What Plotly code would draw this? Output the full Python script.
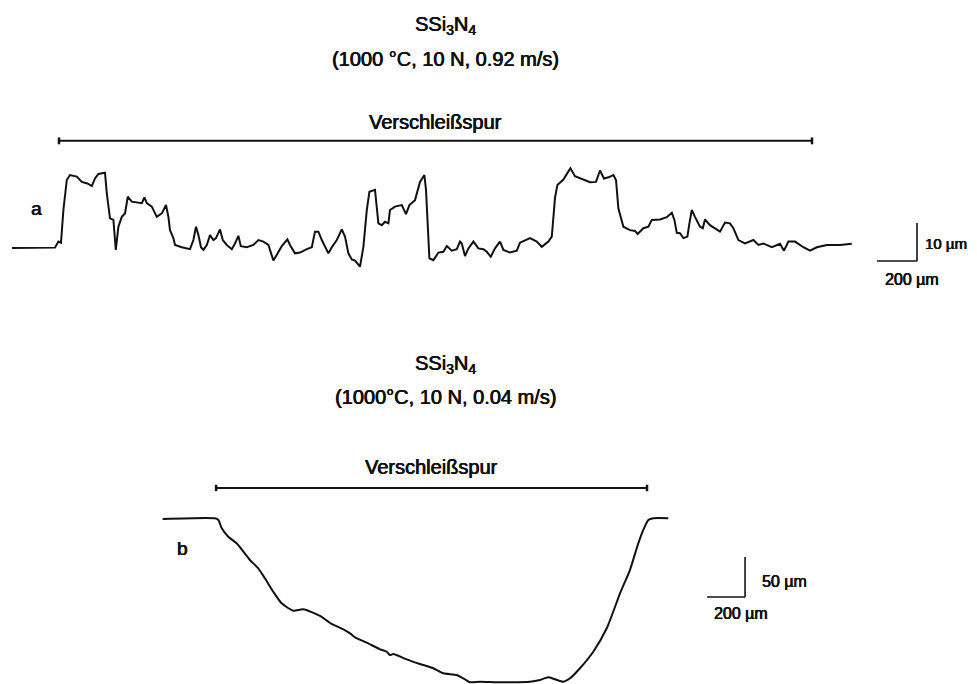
import plotly.graph_objects as go

# ---------------- Data: profile a (1000 °C, 10 N, 0.92 m/s) ----------------
# position along scan (µm), height (µm)
pos_a = [0, 215, 232, 245, 257, 274, 290, 324, 349, 377, 399, 415, 432, 465, 474, 490, 507, 519, 532, 549,
         565, 579, 599, 624, 649, 662, 674, 699, 724, 749, 770, 782, 790, 807, 815, 849, 890, 907, 920, 932,
         945, 957, 974, 990, 1007, 1020, 1040, 1054, 1074, 1099, 1115, 1132, 1144, 1174, 1207, 1232, 1257, 1282, 1307, 1324,
         1349, 1377, 1390, 1415, 1440, 1474, 1499, 1515, 1532, 1549, 1574, 1582, 1599, 1624, 1649, 1665, 1682, 1699, 1715, 1740,
         1757, 1774, 1787, 1815, 1832, 1849, 1865, 1882, 1890, 1915, 1949, 1970, 1987, 2015, 2040, 2062, 2070, 2087, 2107, 2132,
         2157, 2174, 2199, 2224, 2240, 2249, 2265, 2282, 2307, 2332, 2357, 2374, 2394, 2415, 2440, 2457, 2490, 2524, 2540, 2565,
         2590, 2624, 2649, 2682, 2699, 2715, 2727, 2757, 2780, 2792, 2815, 2857, 2890, 2920, 2940, 2960, 2982, 3007, 3020, 3032,
         3057, 3090, 3115, 3128, 3157, 3182, 3199, 3240, 3274, 3299, 3312, 3324, 3340, 3357, 3377, 3387, 3399, 3415, 3440, 3454,
         3465, 3490, 3515, 3540, 3565, 3590, 3607, 3632, 3665, 3707, 3732, 3757, 3799, 3840, 3860, 3882, 3915, 3957, 3990, 4024,
         4074, 4140, 4199]
height_a = [0.0, 0.1, 1.7, 1.4, 10.0, 17.9, 19.2, 18.8, 17.4, 17.0, 16.3, 18.3, 19.5, 19.8, 14.4, 7.8, 7.4, -0.5, 5.6, 8.2,
            9.1, 13.5, 12.2, 11.9, 11.8, 13.3, 11.8, 10.9, 8.2, 9.1, 11.3, 8.2, 4.7, 2.6, 0.8, 0.2, -0.3, 2.1, 5.6, 3.4,
            0.2, -0.5, 0.8, 3.4, 2.1, 2.6, 4.9, 2.1, 0.8, -0.3, 1.2, 3.2, 0.5, 0.2, 0.8, 2.1, 1.7, 0.8, -3.3, -1.8,
            0.5, 2.3, 0.8, -1.4, -1.2, -0.3, 0.2, 4.3, 4.3, 2.1, -0.5, -1.4, 0.2, 2.1, 4.9, 3.0, -1.4, -3.0, -3.3, -4.9,
            0.3, 10.0, 14.8, 15.3, 6.5, 6.0, 6.9, 6.5, 10.0, 10.9, 11.3, 8.9, 11.3, 12.6, 17.4, 19.2, 15.3, -2.7, -3.2, -1.2,
            -1.0, 0.5, -0.7, -0.3, 1.7, 1.2, -2.1, -0.1, 1.7, -0.1, -0.3, -1.0, -2.3, -0.1, 1.7, -0.5, -1.2, -0.7, 1.4, 2.1,
            2.6, 1.7, 0.3, 1.7, 3.0, 13.2, 16.6, 18.0, 20.0, 21.0, 18.9, 17.9, 17.3, 17.4, 20.4, 18.3, 18.6, 19.2, 17.9, 10.4,
            5.6, 4.7, 4.5, 3.7, 5.2, 5.6, 7.4, 7.5, 8.1, 9.3, 7.4, 4.0, 3.9, 2.6, 3.0, 6.5, 10.0, 8.2, 5.6, 5.2,
            7.5, 6.0, 5.2, 4.3, 6.7, 6.5, 5.2, 2.1, 1.2, 2.1, 0.8, 1.2, 0.2, 1.1, -0.7, 1.7, 1.7, 0.2, -0.7, 0.2,
            0.8, 0.8, 1.1]
track_a = [235, 4000]          # wear track extent (µm)

# ---------------- Data: profile b (1000 °C, 10 N, 0.04 m/s) ----------------
pos_b = [0, 275, 293, 311, 345, 389, 459, 503, 538, 582, 626, 687, 740, 828, 889, 951, 986, 1012, 1074, 1144,
         1179, 1196, 1214, 1284, 1354, 1424, 1477, 1547, 1591, 1617, 1670, 1758, 1828, 1933, 1986, 2029, 2065, 2108, 2144, 2196,
         2266, 2337, 2407, 2459, 2503, 2529, 2556, 2582, 2661]
height_b = [0.0, 0.9, -1.2, -11.6, -22.1, -30.4, -51.2, -61.6, -74.1, -90.9, -105.4, -114.6, -112.9, -121.2, -131.2, -137.9, -142.9, -147.9, -154.6, -162.9,
            -165.9, -170.0, -168.8, -175.4, -181.2, -186.6, -192.9, -195.0, -200.4, -204.1, -203.4, -204.1, -204.1, -203.4, -201.2, -197.9, -200.4, -203.4, -199.1, -186.6,
            -165.9, -136.6, -92.9, -63.8, -30.4, -13.8, -1.2, 0.9, 0.9]
track_b = [281, 2549]

scale_a = [200, 10]   # horizontal, vertical scale bars (µm)
scale_b = [200, 50]

INK = "#111111"
FONT = "Liberation Sans, Arial, sans-serif"
SHADOW = "0.4px 0px 0px #111111, -0.3px 0px 0px #111111"

fig = go.Figure()
fig.add_trace(go.Scatter(x=pos_a, y=height_a, mode="lines", xaxis="x", yaxis="y",
                         line=dict(color=INK, width=2), hoverinfo="skip", showlegend=False))
fig.add_trace(go.Scatter(x=pos_b, y=height_b, mode="lines", xaxis="x2", yaxis="y2",
                         line=dict(color=INK, width=2, shape="spline", smoothing=0.6),
                         hoverinfo="skip", showlegend=False))

shapes = []
annotations = []

def bar(xr, yr, x0, x1, yv, tick):
    shapes.append(dict(type="line", xref=xr, yref=yr, x0=x0, x1=x1, y0=yv, y1=yv,
                       line=dict(color=INK, width=2)))
    for xv in (x0, x1):
        shapes.append(dict(type="line", xref=xr, yref=yr, x0=xv, x1=xv, y0=yv - tick, y1=yv + tick,
                           line=dict(color=INK, width=2.5)))

def scalebar(xr, yr, x0, y0, sx, sy):
    shapes.append(dict(type="line", xref=xr, yref=yr, x0=x0, x1=x0 + sx, y0=y0, y1=y0,
                       line=dict(color=INK, width=1.6)))
    shapes.append(dict(type="line", xref=xr, yref=yr, x0=x0 + sx, x1=x0 + sx, y0=y0, y1=y0 + sy,
                       line=dict(color=INK, width=1.6)))

def txt(xr, yr, x, y, s, size=20, xanchor="center"):
    annotations.append(dict(xref=xr, yref=yr, x=x, y=y, text=s, showarrow=False,
                            xanchor=xanchor, yanchor="middle",
                            font=dict(family=FONT, size=size, color=INK, shadow=SHADOW)))

# ---- panel a ----
bar("x", "y", track_a[0], track_a[1], 28.2, 0.9)
txt("x", "y", (track_a[0] + track_a[1]) / 2, 33.2, "Verschleißspur")
txt("x", "y", 120, 10.5, "a", size=19)
scalebar("x", "y", 4325, -3.4, scale_a[0], scale_a[1])
txt("x", "y", 4555, 1.3, f"{scale_a[1]} µm", size=15, xanchor="left")
txt("x", "y", 4500, -8.4, f"{scale_a[0]} µm", size=16)
txt("paper", "paper", 0.4483, 0.9737, "SSi<sub>3</sub>N<sub>4</sub>")
txt("paper", "paper", 0.4483, 0.9254, "(1000 °C, 10 N, 0.92 m/s)")

# ---- panel b ----
bar("x2", "y2", track_b[0], track_b[1], 38.8, 4.0)
txt("x2", "y2", (track_b[0] + track_b[1]) / 2, 65.0, "Verschleißspur")
txt("x2", "y2", 102, -36.25, "b", size=19)
scalebar("x2", "y2", 2865, -97.5, scale_b[0], scale_b[1])
txt("x2", "y2", 3143, -78.4, f"{scale_b[1]} µm", size=16, xanchor="left")
txt("x2", "y2", 3046, -117.5, f"{scale_b[0]} µm", size=16)
txt("paper", "paper", 0.4483, 0.4781, "SSi<sub>3</sub>N<sub>4</sub>")
txt("paper", "paper", 0.4483, 0.4313, "(1000°C, 10 N, 0.04 m/s)")

hidden = dict(visible=False, showgrid=False, zeroline=False, fixedrange=True)
fig.update_layout(
    width=977, height=684,
    margin=dict(l=0, r=0, t=0, b=0),
    paper_bgcolor="white", plot_bgcolor="rgba(0,0,0,0)",
    xaxis=dict(hidden, domain=[0, 1], range=[-20, 4865]),
    yaxis=dict(hidden, domain=[0, 1], range=[-116.84, 63.16]),
    xaxis2=dict(hidden, domain=[0, 1], range=[-814.2, 4327.8], anchor="y2", overlaying="x"),
    yaxis2=dict(hidden, domain=[0, 1], range=[-216.25, 638.75], anchor="x2", overlaying="y"),
    shapes=shapes, annotations=annotations,
    showlegend=False,
)

fig.write_html("out.html")
